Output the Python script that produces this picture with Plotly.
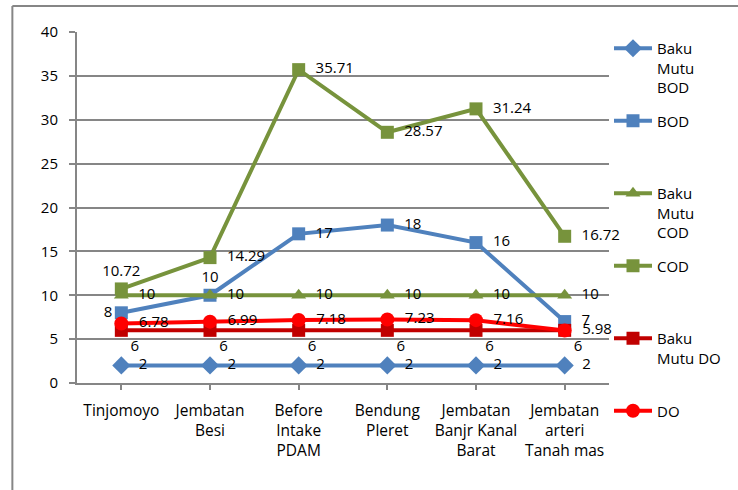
import plotly.graph_objects as go

categories = ["Tinjomoyo", "Jembatan<br>Besi", "Before<br>Intake<br>PDAM", "Bendung<br>Pleret",
              "Jembatan<br>Banjr Kanal<br>Barat", "Jembatan<br>arteri<br>Tanah mas"]
baku_mutu_bod = [2, 2, 2, 2, 2, 2]
bod = [8, 10, 17, 18, 16, 7]
baku_mutu_cod = [10, 10, 10, 10, 10, 10]
cod = [10.72, 14.29, 35.71, 28.57, 31.24, 16.72]
baku_mutu_do = [6, 6, 6, 6, 6, 6]
do_vals = [6.78, 6.99, 7.18, 7.23, 7.16, 5.98]
y_ticks = [0, 5, 10, 15, 20, 25, 30, 35, 40]

FONT = "Open Sans"
x = list(range(len(categories)))

series = [
    ("Baku<br>Mutu<br>BOD", baku_mutu_bod, "#4F81BD", "diamond", 14, ["middle right"] * 6),
    ("BOD<br> <br> ", bod, "#4F81BD", "square", 13,
     ["middle left", "top center", "middle right", "middle right", "middle right", "middle right"]),
    ("Baku<br>Mutu<br>COD", baku_mutu_cod, "#77933C", "triangle-up", 13, ["middle right"] * 6),
    ("COD<br> <br> ", cod, "#77933C", "square", 13,
     ["top center", "middle right", "middle right", "middle right", "middle right", "middle right"]),
    ("Baku<br>Mutu DO<br> ", baku_mutu_do, "#C00000", "square", 13, ["bottom right"] * 6),
    ("DO<br> <br> ", do_vals, "#FF0000", "circle", 14, ["middle right"] * 6),
]

PAD = "\u00a0\u00a0"

fig = go.Figure()
for i, (name, vals, color, sym, msize, pos) in enumerate(series):
    labels = [(PAD if p == "middle right" else "") + f"{v:g}" for v, p in zip(vals, pos)]
    fig.add_trace(go.Scatter(
        x=x, y=vals, name=name, mode="lines+markers+text",
        line=dict(color=color, width=4),
        marker=dict(symbol=sym, size=msize, color=color),
        text=labels, textposition=pos,
        textfont=dict(family=FONT, size=15, color="#000000"),
        legendgroup=f"g{i}", cliponaxis=False,
    ))

fig.update_layout(
    width=738, height=490,
    margin=dict(l=77, r=126, t=32, b=107),
    paper_bgcolor="white", plot_bgcolor="white",
    font=dict(family=FONT, size=14, color="#000000"),
    showlegend=True,
    legend=dict(x=1.0, xanchor="left", y=1.0, yanchor="top", valign="top",
                tracegroupgap=11, itemwidth=38, font=dict(family=FONT, size=15),
                bgcolor="rgba(0,0,0,0)", maxheight=470),
    xaxis=dict(tickmode="array", tickvals=x, ticktext=categories, range=[-0.5, 5.5],
               showgrid=False, showline=True, linecolor="#868686", linewidth=2,
               ticks="outside", ticklen=5, tickcolor="#868686", tickwidth=2,
               tickfont=dict(family=FONT, size=15.5), ticklabelstandoff=7, zeroline=False),
    yaxis=dict(range=[0, 40], tickvals=y_ticks, showgrid=True, gridcolor="#868686", gridwidth=2,
               showline=True, linecolor="#868686", linewidth=2, ticks="outside", ticklen=6,
               tickcolor="#868686", tickwidth=2, tickfont=dict(family=FONT, size=15),
               ticklabelstandoff=8, zeroline=False),
)

# outer chart frame (top and left edges visible)
fig.add_shape(type="line", xref="paper", yref="paper", x0=(12 - 77) / 535, x1=1.3,
              y0=(490 - 107 - 6) / 351, y1=(490 - 107 - 6) / 351, line=dict(color="#868686", width=2))
fig.add_shape(type="line", xref="paper", yref="paper", x0=(12 - 77) / 535, x1=(12 - 77) / 535,
              y0=(490 - 107 - 6) / 351, y1=-0.4, line=dict(color="#868686", width=2))

fig.write_html("out.html", config={"displayModeBar": False},
               post_script="document.body.style.margin='0';document.body.style.overflow='hidden';")
